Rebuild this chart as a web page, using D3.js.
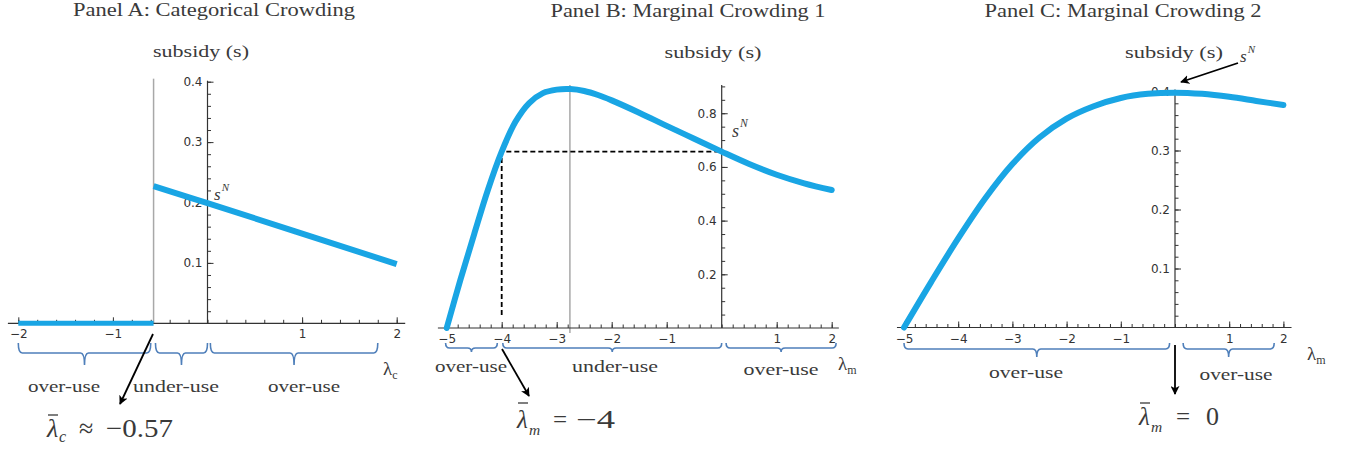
<!DOCTYPE html>
<html><head><meta charset="utf-8">
<script src="https://cdn.jsdelivr.net/npm/d3@7"></script>
<style>body{margin:0;background:#fff}</style>
</head><body><svg id="c" width="1352" height="452"></svg>
<script>
// ---------------- data ----------------
const titles = ["Panel A: Categorical Crowding", "Panel B: Marginal Crowding 1", "Panel C: Marginal Crowding 2"];
const yAxisTitle = "subsidy (s)";

// Panel A (categorical crowding)
const aFlatLambda = [-2, -0.57];
const aFlatS = [0, 0];
const aLambda = [-0.57, 0, 2];
const aS = [0.227, 0.199, 0.098];
const aCutoff = -0.57;
const aXTicks = [-2, -1, 1, 2];
const aYTicks = [0.1, 0.2, 0.3, 0.4];
const aBraces = [[-2, -0.6], [-0.55, 0], [0.03, 1.8]];
const aRegionLabels = ["over-use", "under-use", "over-use"];

// Panel B (marginal crowding 1)
const bLambda = [-5, -4.75, -4.5, -4.25, -4, -3.75, -3.5, -3.25, -3, -2.75, -2.5, -2.25, -2, -1.5, -1, -0.5, 0, 0.5, 1, 1.5, 2];
const bS = [0, 0.18, 0.35, 0.515, 0.657, 0.768, 0.838, 0.875, 0.888, 0.890, 0.883, 0.868, 0.848, 0.802, 0.753, 0.705, 0.657, 0.611, 0.571, 0.539, 0.514];
const bPeak = -2.76;
const bCutoff = -4;
const bSN = 0.657;
const bXTicks = [-5, -4, -3, -2, -1, 1, 2];
const bYTicks = [0.2, 0.4, 0.6, 0.8];
const bBraces = [[-5.02, -4.08], [-3.98, 0], [0.08, 2.08]];
const bRegionLabels = ["over-use", "under-use", "over-use"];

// Panel C (marginal crowding 2)
const cLambda = [-5, -4.5, -4, -3.5, -3, -2.5, -2, -1.5, -1, -0.5, 0, 0.5, 1, 1.5, 2];
const cS = [0, 0.077, 0.151, 0.219, 0.277, 0.322, 0.354, 0.375, 0.389, 0.396, 0.398, 0.396, 0.391, 0.384, 0.377];
const cXTicks = [-5, -4, -3, -2, -1, 1, 2];
const cYTicks = [0.1, 0.2, 0.3, 0.4];
const cBraces = [[-5, -0.1], [0.15, 1.83]];
const cRegionLabels = ["over-use", "over-use"];

// ---------------- drawing ----------------
const svg = d3.select("#c");
const BLUE = "#19a5e4", BRACE = "#4f7fba", AX = "#333", TXT = "#3a3a3a";
const SERIF = "'Liberation Serif', 'DejaVu Serif', serif";
const SANS = "'DejaVu Sans', Verdana, sans-serif";

svg.append("defs").append("marker")
  .attr("id", "arr").attr("viewBox", "0 0 10 10").attr("refX", 9).attr("refY", 5)
  .attr("markerWidth", 5).attr("markerHeight", 5).attr("orient", "auto-start-reverse")
  .append("path").attr("d", "M0,0 L10,5 L0,10 L2.5,5 Z").attr("fill", "#000");

function txt(x, y, s, size, opts = {}) {
  const t = svg.append("text").attr("x", x).attr("y", y).text(s)
    .attr("font-family", opts.family || SERIF).attr("font-size", size)
    .attr("fill", opts.fill || TXT).attr("text-anchor", opts.anchor || "middle");
  if (opts.italic) t.attr("font-style", "italic");
  if (opts.len) t.attr("textLength", opts.len).attr("lengthAdjust", "spacingAndGlyphs");
  return t;
}

function axes(x, y, xTicks, yTicks, xMinorStep, yMinorStep, xExt, yTop, xLabelPad, fmt) {
  const g = svg.append("g");
  const y0 = y(0), x0 = x(0);
  g.append("line").attr("x1", x(xExt[0])).attr("x2", x(xExt[1])).attr("y1", y0).attr("y2", y0)
    .attr("stroke", AX).attr("stroke-width", 1.2);
  g.append("line").attr("x1", x0).attr("x2", x0).attr("y1", y0).attr("y2", yTop)
    .attr("stroke", AX).attr("stroke-width", 1.2);
  const xd = x.domain(), yd = y.domain();
  const xMinor = d3.range(Math.ceil(xd[0] / xMinorStep), Math.floor(xd[1] / xMinorStep) + 1).map(k => +(k * xMinorStep).toFixed(4));
  const yMinor = d3.range(1, Math.floor(yd[1] / yMinorStep + 1e-6) + 1).map(k => +(k * yMinorStep).toFixed(4));
  const gxm = g.append("g").attr("transform", `translate(0,${y0})`)
    .call(d3.axisBottom(x).tickValues(xMinor).tickSize(-3.5).tickFormat(""));
  const gym = g.append("g").attr("transform", `translate(${x0},0)`)
    .call(d3.axisLeft(y).tickValues(yMinor).tickSize(-3.5).tickFormat(""));
  const gx = g.append("g").attr("transform", `translate(0,${y0})`)
    .call(d3.axisBottom(x).tickValues(xTicks).tickSize(-6).tickPadding(xLabelPad).tickFormat(d3.format("d")));
  const gy = g.append("g").attr("transform", `translate(${x0},0)`)
    .call(d3.axisLeft(y).tickValues(yTicks).tickSize(-6).tickPadding(5).tickFormat(d3.format(fmt)));
  [gxm, gym, gx, gy].forEach(a => {
    a.attr("font-size", null).attr("font-family", null);
    a.select(".domain").remove();
    a.selectAll("line").attr("stroke", AX).attr("stroke-width", 1);
    a.selectAll("text").style("font-family", SANS).style("font-size", "12px").attr("fill", "#333");
  });
}

function brace(x0, x1, yTop, yLine, yTip) {
  const xm = (x0 + x1) / 2, r = 4;
  const p = `M${x0},${yTop} Q${x0},${yLine} ${x0 + r},${yLine} L${xm - r},${yLine} Q${xm},${yLine} ${xm},${yTip}` +
            ` Q${xm},${yLine} ${xm + r},${yLine} L${x1 - r},${yLine} Q${x1},${yLine} ${x1},${yTop}`;
  svg.append("path").attr("d", p).attr("fill", "none").attr("stroke", BRACE).attr("stroke-width", 1.6);
}

function arrow(x1, y1, x2, y2) {
  svg.append("line").attr("x1", x1).attr("y1", y1).attr("x2", x2).attr("y2", y2)
    .attr("stroke", "#000").attr("stroke-width", 1.8).attr("marker-end", "url(#arr)");
}

function lambdaVar(x, y, sub) {
  const t = svg.append("text").attr("x", x).attr("y", y).attr("font-family", SERIF).attr("fill", TXT).attr("font-size", 19);
  t.append("tspan").text("λ");
  t.append("tspan").attr("font-size", 12).attr("dy", 4).text(sub);
}

function sN(x, y, size) {
  const t = svg.append("text").attr("x", x).attr("y", y).attr("font-family", SERIF).attr("fill", TXT)
    .attr("font-style", "italic").attr("font-size", size);
  t.append("tspan").text("s");
  t.append("tspan").attr("font-size", size * 0.65).attr("dy", -size * 0.55).attr("dx", 1).text("N");
}

// λ̄ annotation: positions of λ, subscript, relation and value (left edges)
function lambdaBar(p, sub, rel, val) {
  const g = svg.append("g").attr("font-family", SERIF).attr("fill", TXT);
  g.append("text").attr("x", p.x).attr("y", p.y).attr("font-size", p.size).attr("font-style", "italic").text("λ");
  g.append("text").attr("x", p.xs).attr("y", p.y + p.dsub).attr("font-size", p.size * 0.62).attr("font-style", "italic").text(sub);
  g.append("text").attr("x", p.xr).attr("y", p.y).attr("font-size", p.size).text(rel);
  g.append("text").attr("x", p.xv).attr("y", p.y).attr("font-size", p.size).text(val)
    .attr("textLength", p.wv).attr("lengthAdjust", "spacingAndGlyphs");
  svg.append("line").attr("x1", p.x + 1).attr("x2", p.x + 11).attr("y1", p.yb).attr("y2", p.yb)
    .attr("stroke", TXT).attr("stroke-width", 1.3);
}

const line = d3.line().curve(d3.curveCatmullRom.alpha(0.5));

// ===== Panel A =====
{
  const x = d3.scaleLinear().domain([-2, 2]).range([18.3, 396.7]);
  const y = d3.scaleLinear().domain([0, 0.4]).range([323.3, 81.7]);
  txt(214, 16, titles[0], 19, { len: 282 });
  txt(201, 57, yAxisTitle, 17, { len: 96 });
  svg.append("line").attr("x1", x(aCutoff)).attr("x2", x(aCutoff)).attr("y1", y(0)).attr("y2", y(0.405))
    .attr("stroke", "#a8a8a8").attr("stroke-width", 1.5);
  axes(x, y, aXTicks, aYTicks, 0.2, 0.02, [-2.11, 2.09], y(0.4) - 1, 6, ".1f");
  svg.append("path").attr("d", line(aFlatLambda.map((l, i) => [x(l), y(aFlatS[i])])))
    .attr("fill", "none").attr("stroke", BLUE).attr("stroke-width", 5);
  svg.append("path").attr("d", line(aLambda.map((l, i) => [x(l), y(aS[i])])))
    .attr("fill", "none").attr("stroke", BLUE).attr("stroke-width", 6);
  sN(214, 200, 17);
  aBraces.forEach(b => brace(x(b[0]), x(b[1]), 343, 353, 365));
  [64, 176, 304].forEach((cx, i) => txt(cx, 392, aRegionLabels[i], 17, { len: i === 1 ? 86 : 72 }));
  lambdaVar(383, 375, "c");
  arrow(153, 334, 120, 404);
  lambdaBar({ x: 47, xs: 59, xr: 79, xv: 106, wv: 67, y: 437, dsub: 5, size: 26, yb: 415 }, "c", "≈", "−0.57");
}

// ===== Panel B =====
{
  const x = d3.scaleLinear().domain([-5, 2]).range([446.7, 831.7]);
  const y = d3.scaleLinear().domain([0, 0.9]).range([328, 86.4]);
  txt(688, 17, titles[1], 19, { len: 275 });
  txt(713, 58, yAxisTitle, 17, { len: 97 });
  svg.append("line").attr("x1", x(bPeak)).attr("x2", x(bPeak)).attr("y1", y(0) + 5).attr("y2", y(0.905))
    .attr("stroke", "#a8a8a8").attr("stroke-width", 1.5);
  axes(x, y, bXTicks, bYTicks, 0.2, 0.05, [-5.16, 2.13], y(0.905), 6, ".1f");
  svg.append("path").attr("d", `M${x(bCutoff)},${y(0) - 13} L${x(bCutoff)},${y(bSN)} L${x(0)},${y(bSN)}`)
    .attr("fill", "none").attr("stroke", "#000").attr("stroke-width", 1.8).attr("stroke-dasharray", "5,3");
  svg.append("path").attr("d", line(bLambda.map((l, i) => [x(l), y(bS[i])])))
    .attr("fill", "none").attr("stroke", BLUE).attr("stroke-width", 6).attr("stroke-linecap", "round");
  sN(732, 137, 18);
  bBraces.forEach(b => brace(x(b[0]), x(b[1]), 343, 348, 352));
  txt(471, 372, bRegionLabels[0], 17, { len: 72 });
  txt(615, 372, bRegionLabels[1], 17, { len: 86 });
  txt(781, 375, bRegionLabels[2], 17, { len: 75 });
  lambdaVar(838, 370, "m");
  arrow(502, 349, 529, 396);
  lambdaBar({ x: 517, xs: 529, xr: 553, xv: 576, wv: 39, y: 428, dsub: 7, size: 25, yb: 403 }, "m", "=", "−4");
}

// ===== Panel C =====
{
  const x = d3.scaleLinear().domain([-5, 2]).range([904, 1283.4]);
  const y = d3.scaleLinear().domain([0, 0.4]).range([327.5, 91.5]);
  txt(1123, 17, titles[2], 19, { len: 277 });
  txt(1174, 58, yAxisTitle, 17, { len: 98 });
  axes(x, y, cXTicks, cYTicks, 0.2, 0.02, [-5.13, 2.15], y(0.4) - 2, 7, ".1f");
  svg.append("path").attr("d", line(cLambda.map((l, i) => [x(l), y(cS[i])])))
    .attr("fill", "none").attr("stroke", BLUE).attr("stroke-width", 6).attr("stroke-linecap", "round");
  sN(1240, 62, 17);
  arrow(1238, 63, 1181, 82);
  cBraces.forEach(b => brace(x(b[0]), x(b[1]), 343, 349, 357));
  txt(1026, 378, cRegionLabels[0], 17, { len: 74 });
  txt(1236, 380, cRegionLabels[1], 17, { len: 73 });
  lambdaVar(1307, 360, "m");
  arrow(1175, 345, 1175, 394);
  lambdaBar({ x: 1139, xs: 1151, xr: 1176, xv: 1206, wv: 13, y: 425, dsub: 7, size: 25, yb: 403 }, "m", "=", "0");
}
</script></body></html>
